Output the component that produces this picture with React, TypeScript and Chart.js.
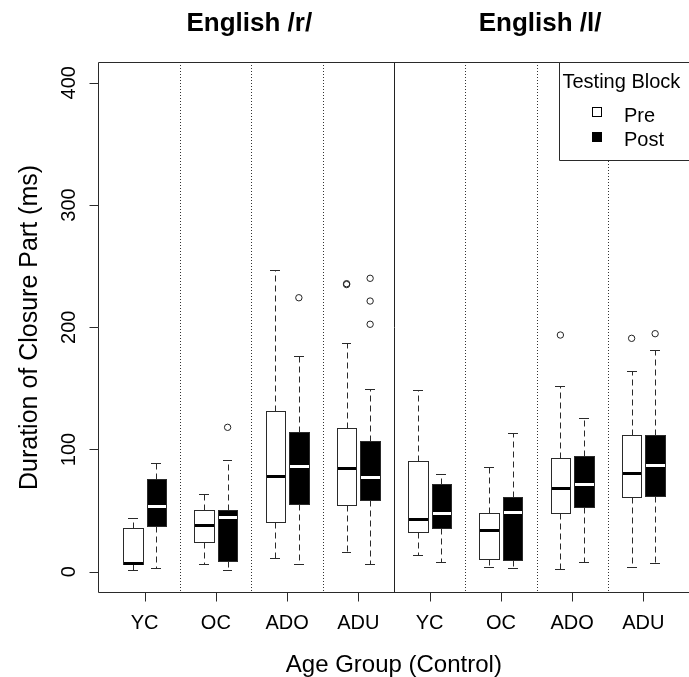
import React, { useEffect, useRef } from "react";
import { Chart, registerables } from "chart.js";

Chart.register(...registerables);

// Panels and the age groups along the x axis (four per panel)
const panelTitles = ["English /r/", "English /l/"];
const ageGroups = ["YC", "OC", "ADO", "ADU", "YC", "OC", "ADO", "ADU"];
const yTicks = [0, 100, 200, 300, 400];

// Pre testing block: five-number summaries per age group (ms)
const preLow = [1.8, 6.5, 11.4, 15.8, 13.8, 3.5, 1.9, 3.8];
const preQ1 = [6, 24.4, 41, 54.8, 32.6, 10.3, 48.1, 61.1];
const preMedian = [7, 38.5, 78.5, 84.7, 42.9, 34, 68.2, 80.4];
const preQ3 = [36, 50.5, 131.2, 117.3, 90.7, 48.1, 93.4, 111.6];
const preHigh = [44, 63.5, 247, 187.1, 148.6, 85.8, 152.1, 163.9];

// Post testing block
const postLow = [2.7, 1.1, 6.5, 6.5, 7.9, 2.7, 7.9, 7.1];
const postQ1 = [37.5, 8.4, 55.6, 58.4, 35.6, 9.8, 53, 61.7];
const postMedian = [54, 44.8, 86.6, 77.7, 48.1, 48.9, 71.9, 87.4];
const postQ3 = [75.5, 50.5, 114.3, 106.7, 71.7, 61.3, 94.5, 111.9];
const postHigh = [89, 91.2, 176.7, 149.4, 80.1, 113.2, 125.7, 181.1];

// Outliers: [age group index, value]
const preOutliers: [number, number][] = [
  [3, 235.6],
  [3, 234.9],
  [6, 193.6],
  [7, 190.9],
];
const postOutliers: [number, number][] = [
  [1, 118.1],
  [2, 224.1],
  [3, 240.0],
  [3, 221.4],
  [3, 202.4],
  [7, 194.7],
];

const FONT = "'Liberation Sans', Arial, Helvetica, sans-serif";
const BOX_OFFSET = 0.165; // distance of each box from its group tick (x units)
const BOX_HALF = 0.137; // half box width (x units)
const LINE = "#2a2a2a";

type Series = {
  low: number[];
  q1: number[];
  med: number[];
  q3: number[];
  high: number[];
  offset: number;
  fill: string;
  medianColor: string;
};

const series: Series[] = [
  { low: preLow, q1: preQ1, med: preMedian, q3: preQ3, high: preHigh, offset: -BOX_OFFSET, fill: "#ffffff", medianColor: "#000000" },
  { low: postLow, q1: postQ1, med: postMedian, q3: postQ3, high: postHigh, offset: BOX_OFFSET, fill: "#000000", medianColor: "#ffffff" },
];

const crisp = (v: number) => Math.round(v) + 0.5;

const boxplotPlugin = {
  id: "boxplots",
  beforeDatasetsDraw(chart: any) {
    const { ctx, chartArea: a, scales } = chart;
    const xs = scales.x;
    const ys = scales.y;
    ctx.save();

    // group separators: dotted within a panel, solid between panels
    for (let k = 1; k < ageGroups.length; k++) {
      const px = crisp(xs.getPixelForValue(k + 0.5));
      const solid = k === ageGroups.length / 2;
      ctx.beginPath();
      ctx.setLineDash(solid ? [] : [1, 2]);
      ctx.lineWidth = 1;
      ctx.strokeStyle = solid ? "#222" : "#333";
      ctx.moveTo(px, a.top);
      ctx.lineTo(px, a.bottom);
      ctx.stroke();
    }

    const halfPx = xs.getPixelForValue(BOX_HALF) - xs.getPixelForValue(0);
    series.forEach((s) => {
      for (let i = 0; i < ageGroups.length; i++) {
        const cx = xs.getPixelForValue(i + 1 + s.offset);
        const lx = Math.round(cx - halfPx) + 0.5;
        const rx = Math.round(cx + halfPx) + 0.5;
        const mx = crisp(cx);
        const yLow = crisp(ys.getPixelForValue(s.low[i]));
        const yQ1 = crisp(ys.getPixelForValue(s.q1[i]));
        const yMed = ys.getPixelForValue(s.med[i]);
        const yQ3 = crisp(ys.getPixelForValue(s.q3[i]));
        const yHigh = crisp(ys.getPixelForValue(s.high[i]));

        // whiskers
        ctx.strokeStyle = LINE;
        ctx.lineWidth = 1;
        ctx.setLineDash([6, 4]);
        ctx.beginPath();
        ctx.moveTo(mx, yQ3);
        ctx.lineTo(mx, yHigh);
        ctx.moveTo(mx, yQ1);
        ctx.lineTo(mx, yLow);
        ctx.stroke();

        // staples
        ctx.setLineDash([]);
        const capHalf = halfPx / 2;
        ctx.beginPath();
        ctx.moveTo(Math.round(cx - capHalf), yHigh);
        ctx.lineTo(Math.round(cx + capHalf), yHigh);
        ctx.moveTo(Math.round(cx - capHalf), yLow);
        ctx.lineTo(Math.round(cx + capHalf), yLow);
        ctx.stroke();

        // box
        ctx.fillStyle = s.fill;
        ctx.fillRect(lx, yQ3, rx - lx, yQ1 - yQ3);
        ctx.strokeRect(lx, yQ3, rx - lx, yQ1 - yQ3);

        // median
        ctx.strokeStyle = s.medianColor;
        ctx.lineWidth = 3;
        ctx.beginPath();
        ctx.moveTo(lx + 0.5, Math.round(yMed) + 0.5);
        ctx.lineTo(rx - 0.5, Math.round(yMed) + 0.5);
        ctx.stroke();
      }
    });
    ctx.restore();
  },
  afterDraw(chart: any) {
    const { ctx, chartArea: a, scales, width } = chart;
    const xs = scales.x;
    const ys = scales.y;
    ctx.save();
    ctx.setLineDash([]);
    ctx.lineWidth = 1;
    ctx.strokeStyle = LINE;

    // plot frame (right edge runs past the canvas)
    const left = crisp(a.left);
    const top = crisp(a.top);
    const bottom = crisp(a.bottom - 1);
    ctx.beginPath();
    ctx.moveTo(width + 10, top);
    ctx.lineTo(left, top);
    ctx.lineTo(left, bottom);
    ctx.lineTo(width + 10, bottom);
    ctx.stroke();

    ctx.fillStyle = "#000";

    // y axis ticks and labels (rotated, parallel to the axis)
    ctx.font = `20px ${FONT}`;
    ctx.textAlign = "center";
    ctx.textBaseline = "alphabetic";
    yTicks.forEach((v) => {
      const py = crisp(ys.getPixelForValue(v));
      ctx.beginPath();
      ctx.moveTo(left - 9, py);
      ctx.lineTo(left, py);
      ctx.stroke();
      ctx.save();
      ctx.translate(left - 23.5, ys.getPixelForValue(v));
      ctx.rotate(-Math.PI / 2);
      ctx.fillText(String(v), 0, 0);
      ctx.restore();
    });

    // x axis ticks and labels
    ageGroups.forEach((g, i) => {
      const px = crisp(xs.getPixelForValue(i + 1));
      ctx.beginPath();
      ctx.moveTo(px, bottom);
      ctx.lineTo(px, bottom + 9);
      ctx.stroke();
      ctx.fillText(g, xs.getPixelForValue(i + 1), bottom + 36.5);
    });

    // axis titles
    ctx.font = `24px ${FONT}`;
    ctx.fillText("Age Group (Control)", (a.left + xs.getPixelForValue(8.65)) / 2, 672);
    ctx.font = `25px ${FONT}`;
    ctx.save();
    ctx.translate(37, (a.top + a.bottom) / 2);
    ctx.rotate(-Math.PI / 2);
    ctx.fillText("Duration of Closure Part (ms)", 0, 0);
    ctx.restore();

    // panel titles
    ctx.font = `bold 26px ${FONT}`;
    ctx.fillText(panelTitles[0], xs.getPixelForValue(2.47), 31);
    ctx.fillText(panelTitles[1], xs.getPixelForValue(6.55), 31);

    // legend
    const lgLeft = 559.5;
    const lgBottom = 160.5;
    ctx.fillStyle = "#fff";
    ctx.fillRect(lgLeft, top, width - lgLeft + 10, lgBottom - top);
    ctx.beginPath();
    ctx.moveTo(width + 10, top);
    ctx.lineTo(lgLeft, top);
    ctx.lineTo(lgLeft, lgBottom);
    ctx.lineTo(width + 10, lgBottom);
    ctx.stroke();
    ctx.fillStyle = "#000";
    ctx.font = `20px ${FONT}`;
    ctx.textAlign = "left";
    ctx.fillText("Testing Block", 562.5, 87.5);
    ctx.strokeStyle = "#000";
    ctx.fillStyle = "#fff";
    ctx.fillRect(592.5, 107.5, 9, 9);
    ctx.strokeRect(592.5, 107.5, 9, 9);
    ctx.fillStyle = "#000";
    ctx.fillRect(592, 132, 10, 10);
    ctx.fillText("Pre", 624, 121.5);
    ctx.fillText("Post", 624, 145.5);

    ctx.restore();
  },
};

export default function App() {
  const ref = useRef<HTMLCanvasElement | null>(null);

  useEffect(() => {
    if (!ref.current) return;
    const toPoints = (list: [number, number][], offset: number) =>
      list.map(([g, v]) => ({ x: g + 1 + offset, y: v }));

    const chart = new Chart(ref.current, {
      type: "scatter",
      data: {
        datasets: [
          {
            label: "Pre",
            data: toPoints(preOutliers, -BOX_OFFSET),
            pointRadius: 3.2,
            pointBorderWidth: 1,
            pointBorderColor: "#222",
            pointBackgroundColor: "rgba(255,255,255,0)",
          },
          {
            label: "Post",
            data: toPoints(postOutliers, BOX_OFFSET),
            pointRadius: 3.2,
            pointBorderWidth: 1,
            pointBorderColor: "#222",
            pointBackgroundColor: "rgba(255,255,255,0)",
          },
        ],
      },
      options: {
        animation: false,
        responsive: false,
        devicePixelRatio: 1,
        events: [],
        layout: { padding: { left: 98, top: 62, right: 0, bottom: 84 } },
        scales: {
          x: { type: "linear", display: false, min: 0.346, max: 8.57 },
          y: { type: "linear", display: false, min: -17.42, max: 416.94 },
        },
        plugins: {
          legend: { display: false },
          tooltip: { enabled: false },
        },
      },
      plugins: [boxplotPlugin],
    });
    return () => chart.destroy();
  }, []);

  return (
    <div style={{ position: "fixed", left: 0, top: 0, width: 689, height: 677, background: "#fff" }}>
      <canvas ref={ref} width={689} height={677} style={{ display: "block", width: 689, height: 677 }} />
    </div>
  );
}
